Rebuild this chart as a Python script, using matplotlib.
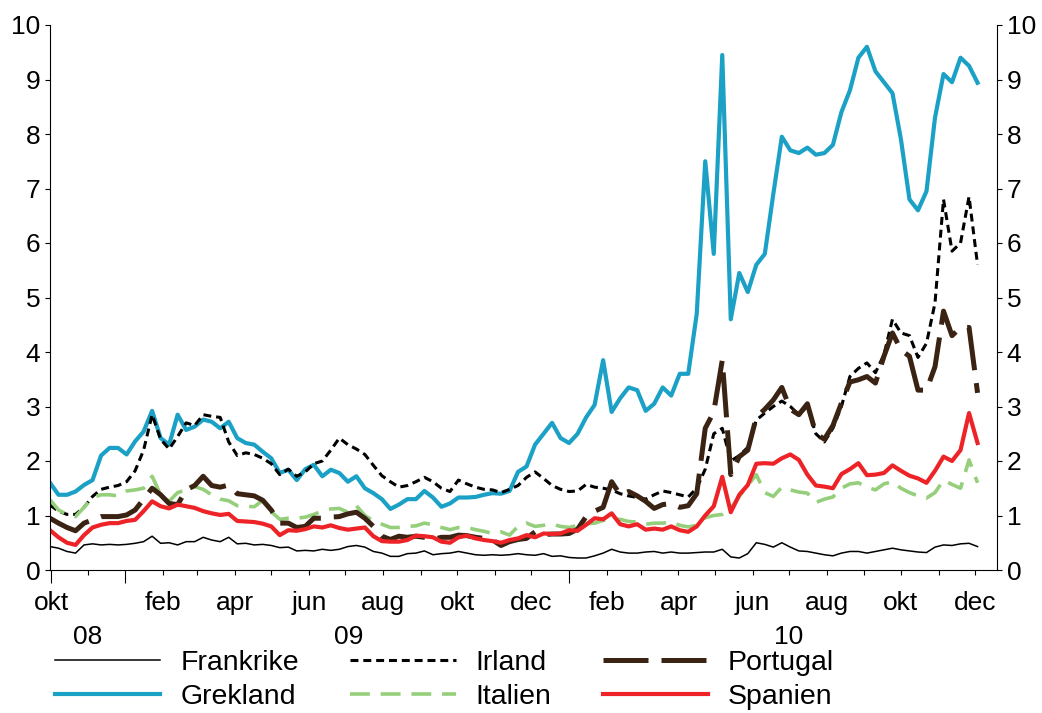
import numpy as np
import pandas as pd
import matplotlib
matplotlib.use("Agg")
import matplotlib.pyplot as plt

plt.rcParams['font.family'] = ['Liberation Sans', 'DejaVu Sans']

dates = pd.date_range("2008-10-31", periods=110, freq="7D")

frankrike = [0.43, 0.40, 0.34, 0.31, 0.46, 0.48, 0.46, 0.47, 0.46, 0.47,
             0.49, 0.52, 0.62, 0.49, 0.50, 0.46, 0.52, 0.52, 0.60, 0.55,
             0.52, 0.60, 0.48, 0.49, 0.46, 0.47, 0.45, 0.41, 0.42, 0.35,
             0.36, 0.35, 0.38, 0.36, 0.38, 0.43, 0.45, 0.42, 0.34, 0.31,
             0.25, 0.25, 0.30, 0.31, 0.35, 0.28, 0.30, 0.31, 0.34, 0.31,
             0.28, 0.27, 0.28, 0.27, 0.28, 0.30, 0.28, 0.27, 0.30, 0.25,
             0.26, 0.23, 0.22, 0.22, 0.26, 0.31, 0.38, 0.33, 0.31, 0.31,
             0.33, 0.34, 0.31, 0.33, 0.31, 0.31, 0.32, 0.33, 0.33, 0.38,
             0.24, 0.22, 0.30, 0.50, 0.47, 0.42, 0.50, 0.42, 0.35, 0.34,
             0.31, 0.28, 0.26, 0.31, 0.34, 0.34, 0.31, 0.34, 0.37, 0.40,
             0.37, 0.35, 0.33, 0.32, 0.42, 0.46, 0.45, 0.48, 0.49, 0.43]

grekland = [1.60, 1.38, 1.38, 1.44, 1.56, 1.65, 2.10, 2.24, 2.24, 2.12,
            2.36, 2.54, 2.92, 2.42, 2.30, 2.85, 2.57, 2.63, 2.76, 2.72,
            2.60, 2.72, 2.42, 2.33, 2.30, 2.17, 2.05, 1.78, 1.84, 1.65,
            1.85, 1.93, 1.72, 1.84, 1.78, 1.62, 1.72, 1.50, 1.41, 1.30,
            1.12, 1.20, 1.30, 1.30, 1.45, 1.33, 1.16, 1.22, 1.33, 1.33,
            1.34, 1.38, 1.41, 1.40, 1.45, 1.80, 1.90, 2.30, 2.50, 2.70,
            2.42, 2.33, 2.50, 2.80, 3.03, 3.85, 2.90, 3.15, 3.35, 3.30,
            2.92, 3.05, 3.35, 3.20, 3.60, 3.60, 4.70, 7.50, 5.80, 9.45,
            4.60, 5.45, 5.10, 5.60, 5.80, 6.90, 7.95, 7.70, 7.65, 7.75,
            7.62, 7.65, 7.80, 8.40, 8.80, 9.40, 9.60, 9.15, 8.95, 8.75,
            7.90, 6.80, 6.60, 6.95, 8.30, 9.10, 8.95, 9.40, 9.25, 8.94]

irland = [1.19, 1.08, 1.02, 1.02, 1.15, 1.35, 1.48, 1.52, 1.55, 1.62,
          1.82, 2.20, 2.85, 2.40, 2.22, 2.45, 2.70, 2.65, 2.85, 2.82,
          2.80, 2.35, 2.10, 2.15, 2.12, 2.05, 1.95, 1.75, 1.85, 1.72,
          1.80, 1.95, 2.00, 2.20, 2.42, 2.30, 2.22, 2.12, 1.92, 1.73,
          1.62, 1.52, 1.55, 1.62, 1.70, 1.62, 1.50, 1.44, 1.65, 1.58,
          1.52, 1.48, 1.47, 1.42, 1.48, 1.55, 1.70, 1.80, 1.68, 1.55,
          1.48, 1.44, 1.45, 1.57, 1.52, 1.50, 1.47, 1.40, 1.36, 1.33,
          1.30, 1.38, 1.45, 1.42, 1.38, 1.34, 1.50, 1.85, 2.50, 2.60,
          2.00, 2.10, 2.25, 2.75, 2.88, 3.00, 3.10, 3.00, 2.85, 3.00,
          2.50, 2.35, 2.60, 3.00, 3.55, 3.70, 3.80, 3.62, 3.95, 4.60,
          4.35, 4.30, 3.90, 4.16, 4.90, 6.80, 5.85, 6.00, 6.85, 5.60]

italien = [1.29, 1.10, 1.02, 0.98, 1.15, 1.33, 1.38, 1.38, 1.36, 1.45,
           1.47, 1.50, 1.72, 1.38, 1.26, 1.42, 1.47, 1.53, 1.48, 1.38,
           1.30, 1.27, 1.18, 1.17, 1.16, 1.28, 1.07, 0.93, 0.95, 0.95,
           0.97, 1.02, 1.08, 1.12, 1.13, 1.06, 1.18, 1.00, 0.90, 0.84,
           0.78, 0.78, 0.80, 0.81, 0.86, 0.83, 0.78, 0.74, 0.78, 0.78,
           0.74, 0.71, 0.67, 0.70, 0.64, 0.80, 0.86, 0.80, 0.82, 0.84,
           0.80, 0.78, 0.82, 0.85, 0.86, 0.91, 0.92, 0.93, 0.89, 0.88,
           0.84, 0.86, 0.86, 0.88, 0.82, 0.79, 0.82, 0.96, 1.00, 1.02,
           1.13, 1.35, 1.55, 1.75, 1.42, 1.35, 1.52, 1.47, 1.43, 1.41,
           1.24, 1.30, 1.34, 1.50, 1.58, 1.60, 1.52, 1.47, 1.58, 1.62,
           1.50, 1.42, 1.36, 1.32, 1.42, 1.65, 1.57, 1.50, 2.02, 1.60]

portugal = [0.95, 0.86, 0.78, 0.72, 0.86, 0.92, 0.98, 0.98, 0.98, 1.01,
            1.10, 1.30, 1.50, 1.38, 1.22, 1.20, 1.47, 1.55, 1.72, 1.55,
            1.52, 1.56, 1.40, 1.38, 1.36, 1.28, 1.10, 0.86, 0.86, 0.78,
            0.80, 0.95, 0.95, 0.97, 0.98, 1.03, 1.06, 0.95, 0.80, 0.62,
            0.56, 0.62, 0.60, 0.62, 0.60, 0.56, 0.60, 0.60, 0.64, 0.63,
            0.60, 0.58, 0.55, 0.45, 0.52, 0.56, 0.58, 0.70, 0.65, 0.66,
            0.66, 0.67, 0.75, 0.98, 1.08, 1.15, 1.62, 1.38, 1.44, 1.36,
            1.26, 1.13, 1.20, 1.22, 1.15, 1.18, 1.40, 2.60, 2.90, 3.85,
            1.75, 2.08, 2.20, 2.80, 2.95, 3.12, 3.35, 2.95, 2.85, 3.05,
            2.50, 2.40, 2.65, 3.06, 3.45, 3.49, 3.55, 3.43, 3.92, 4.35,
            4.04, 3.92, 3.30, 3.30, 3.73, 4.75, 4.30, 4.45, 4.45, 3.25]

spanien = [0.73, 0.60, 0.50, 0.46, 0.64, 0.78, 0.83, 0.86, 0.86, 0.90,
           0.92, 1.08, 1.26, 1.17, 1.13, 1.20, 1.17, 1.14, 1.08, 1.04,
           1.01, 1.03, 0.90, 0.89, 0.88, 0.85, 0.80, 0.64, 0.73, 0.72,
           0.75, 0.80, 0.78, 0.82, 0.77, 0.74, 0.76, 0.78, 0.62, 0.53,
           0.52, 0.52, 0.55, 0.63, 0.62, 0.60, 0.52, 0.50, 0.60, 0.63,
           0.58, 0.55, 0.53, 0.50, 0.55, 0.58, 0.64, 0.60, 0.67, 0.66,
           0.67, 0.73, 0.72, 0.83, 0.95, 0.93, 1.04, 0.84, 0.80, 0.84,
           0.74, 0.76, 0.74, 0.80, 0.73, 0.70, 0.80, 1.00, 1.17, 1.71,
           1.06, 1.38, 1.56, 1.95, 1.96, 1.95, 2.05, 2.12, 2.02, 1.75,
           1.55, 1.53, 1.50, 1.76, 1.85, 1.96, 1.74, 1.75, 1.78, 1.92,
           1.82, 1.73, 1.68, 1.60, 1.82, 2.08, 2.00, 2.20, 2.88, 2.33]

series = [
    ("Frankrike", frankrike, dict(color="black", lw=1.1, ls="-")),
    ("Grekland", grekland, dict(color="#1ba1c5", lw=3.0, ls="-")),
    ("Irland", irland, dict(color="black", lw=2.2, ls=(0, (2.6, 1.6)))),
    ("Italien", italien, dict(color="#95cf7c", lw=2.6, ls=(0, (5.5, 3)))),
    ("Portugal", portugal, dict(color="#3b2314", lw=3.6, ls=(0, (9, 2.6)))),
    ("Spanien", spanien, dict(color="#ee2327", lw=3.0, ls="-")),
]

fs = 19

fig = plt.figure(figsize=(10.42, 7.13), dpi=100)
ax = fig.add_axes([50 / 1042, 1 - 570 / 713, 947 / 1042, 545 / 713])

for name, vals, style in series:
    ax.plot(dates, vals, label=name, **style)

ax.set_ylim(0, 10)
ax.set_yticks(range(11))
ax.set_xlim(pd.Timestamp("2008-10-31"), pd.Timestamp("2010-12-19"))

# long ticks at the year breaks, short ones every month
major = [pd.Timestamp("2008-11-01"), pd.Timestamp("2009-01-01"), pd.Timestamp("2010-01-01")]
ax.set_xticks(major, ["okt", "", ""])
months = [d for d in pd.date_range("2008-12-01", "2010-12-01", freq="MS") if d.month != 1]
names = {2: "feb", 4: "apr", 6: "jun", 8: "aug", 10: "okt", 12: "dec"}
month_labels = [names.get(d.month, "") if d.year > 2008 else "" for d in months]
ax.set_xticks(months, month_labels, minor=True)

ax.tick_params(axis="x", which="major", length=9.4, width=0.8, pad=5.5, labelsize=fs)
ax.tick_params(axis="x", which="minor", length=3.6, width=0.8, pad=11.3, labelsize=fs)
ax.tick_params(axis="y", left=True, right=True, labelleft=True, labelright=True,
               length=3.6, width=0.8, pad=3.5, labelsize=fs)

for yr, mid in [("08", "2008-12-01"), ("09", "2009-07-04"), ("10", "2010-07-01")]:
    ax.text(pd.Timestamp(mid), -0.123, yr, transform=ax.get_xaxis_transform(),
            ha="center", va="center", fontsize=fs)

ax.spines["top"].set_visible(False)
for s in ["left", "right", "bottom"]:
    ax.spines[s].set_linewidth(0.8)

fig.legend(loc="upper left", bbox_to_anchor=(55 / 1042, 0.088), ncol=3, frameon=False,
           fontsize=20.5, handlelength=3.7, handletextpad=0.7, columnspacing=1.8,
           labelspacing=0.27, borderpad=0, borderaxespad=0)

fig.savefig("out.png", dpi=100)
